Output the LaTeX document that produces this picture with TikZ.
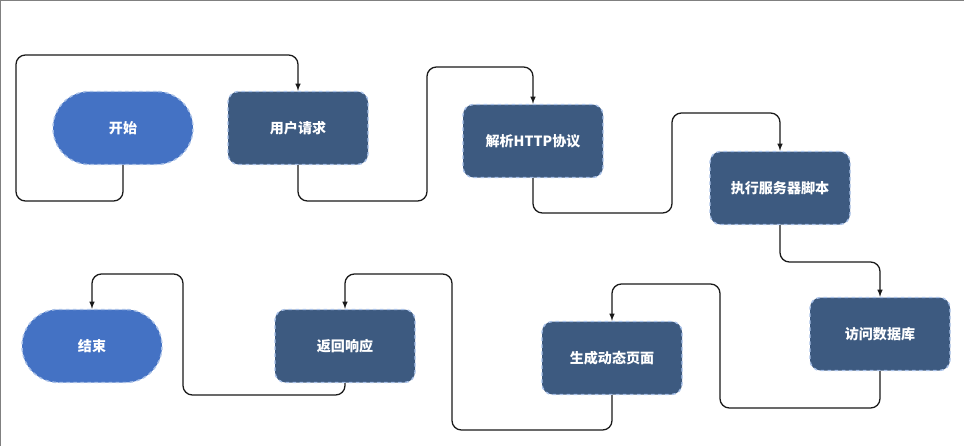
\documentclass[tikz,border=0pt]{standalone}
\usepackage{fontspec}
\newfontfamily\cjk{Noto Sans CJK SC}
\definecolor{startblue}{HTML}{4472C4}
\definecolor{stepblue}{HTML}{3D5A80}
\definecolor{edgeblue}{HTML}{A9C1E8}
\tikzset{
  stepbox/.style={rectangle, rounded corners=9pt, fill=stepblue, draw=edgeblue, dashed, line width=1.2pt,
    minimum width=4.2cm, minimum height=2.19cm, text=white, font=\cjk\bfseries\large},
  endbox/.style={stepbox, fill=startblue, rounded corners=1.09cm},
  flow/.style={-latex, line width=1.1pt, rounded corners=8pt, draw=black!90}
}
\begin{document}
\begin{tikzpicture}[x=0.03cm, y=-0.03cm]
  \useasboundingbox (0,0) rectangle (964,446);
  \draw[gray, line width=1pt] (0,446) -- (0,0) -- (964,0);

  % Nodes
  \node[endbox] (start) at (123,128) {开始};
  \node[stepbox] (req) at (298,128) {用户请求};
  \node[stepbox] (parse) at (533,141) {解析HTTP协议};
  \node[stepbox] (script) at (780,188) {执行服务器脚本};
  \node[stepbox] (db) at (880,334) {访问数据库};
  \node[stepbox] (page) at (612,358) {生成动态页面};
  \node[stepbox] (resp) at (345,346) {返回响应};
  \node[endbox] (stop) at (92,346) {结束};

  % Connectors
  \draw[flow] (start.south) -- (123,201) -- (16,201) -- (16,55) -- (298,55) -- (req.north);
  \draw[flow] (req.south) -- (298,201) -- (427,201) -- (427,67) -- (533,67) -- (parse.north);
  \draw[flow] (parse.south) -- (533,213) -- (672,213) -- (672,113) -- (780,113) -- (script.north);
  \draw[flow] (script.south) -- (780,262) -- (880,262) -- (db.north);
  \draw[flow] (db.south) -- (880,408) -- (720,408) -- (720,284) -- (612,284) -- (page.north);
  \draw[flow] (page.south) -- (612,430) -- (452,430) -- (452,274) -- (345,274) -- (resp.north);
  \draw[flow] (resp.south) -- (345,395) -- (183,395) -- (183,274) -- (92,274) -- (stop.north);
\end{tikzpicture}
\end{document}
